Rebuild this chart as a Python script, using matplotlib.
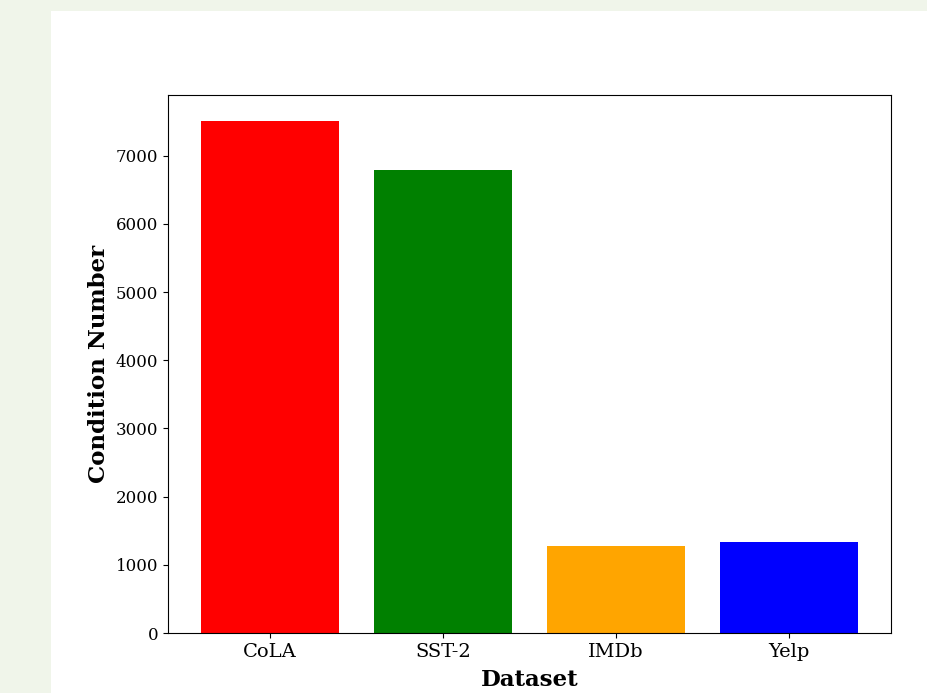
import matplotlib
matplotlib.use("Agg")
import matplotlib.pyplot as plt
from matplotlib.patches import Rectangle

datasets = ["CoLA", "SST-2", "IMDb", "Yelp"]
condition_numbers = [7515, 6795, 1275, 1333]
bar_colors = ["red", "green", "orange", "blue"]

plt.rcParams["font.family"] = "DejaVu Serif"

fig = plt.figure(figsize=(9.28, 6.93), dpi=100)
fig.patch.set_facecolor("#f0f5ea")
# white canvas panel inside the page background
fig.add_artist(Rectangle((51 / 928, 0), 1 - 51 / 928, 1 - 11 / 693,
                         transform=fig.transFigure, facecolor="white",
                         edgecolor="none", zorder=0))

ax = fig.add_axes([168 / 928, 1 - 633 / 693, (891 - 168) / 928, (633 - 95) / 693])
ax.bar(datasets, condition_numbers, color=bar_colors)

ax.set_xlabel("Dataset", fontsize=16.5, fontweight="bold", labelpad=6)
ax.set_ylabel("Condition Number", fontsize=16.5, fontweight="bold")
ax.tick_params(axis="x", labelsize=14)
ax.tick_params(axis="y", labelsize=12)

fig.savefig("out.png", dpi=100, facecolor=fig.get_facecolor())
